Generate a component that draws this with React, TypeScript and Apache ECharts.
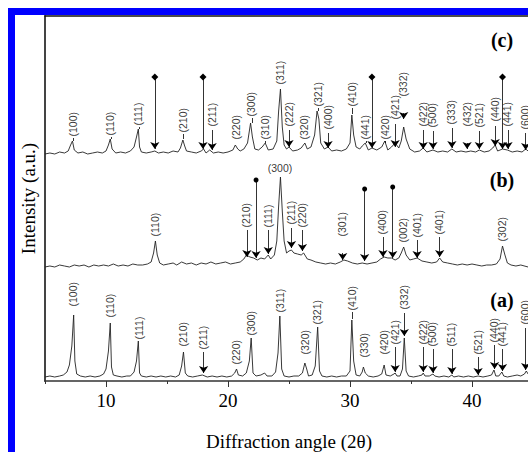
import React, { useEffect, useRef } from "react";
import * as echarts from "echarts";

type Pt = [number, number];
type Lab = [string, number, number];
type Arr = [number, number, number, string];
type Lead = [number, number, number];

const traceA: Pt[] = [
  [5.0, 4], [5.4, 5], [5.8, 4], [6.2, 5], [6.5, 6], [6.8, 9], [7.0, 16], [7.2, 35], [7.35, 66], [7.45, 20], [7.6, 7], [7.9, 5],
  [8.3, 4], [8.7, 5], [9.1, 4], [9.5, 5], [9.8, 7], [10.0, 12], [10.2, 30], [10.35, 58], [10.45, 14], [10.6, 6], [10.9, 5],
  [11.3, 4], [11.7, 5], [12.0, 5], [12.3, 9], [12.5, 20], [12.65, 40], [12.75, 8], [12.9, 5], [13.3, 4], [13.7, 5], [14.1, 4],
  [14.5, 5], [14.9, 4], [15.3, 5], [15.7, 4], [16.0, 6], [16.2, 15], [16.35, 29], [16.5, 8], [16.7, 5], [17.1, 4], [17.5, 5],
  [17.9, 6], [18.3, 4], [18.7, 5], [19.1, 4], [19.5, 5], [19.9, 4], [20.3, 5], [20.55, 8], [20.7, 12], [20.85, 6], [21.2, 5],
  [21.5, 8], [21.75, 20], [21.9, 43], [22.05, 8], [22.3, 5], [22.7, 6], [23.0, 8], [23.2, 5], [23.6, 5], [23.9, 9], [24.1, 28],
  [24.25, 65], [24.4, 12], [24.6, 5], [25.0, 4], [25.4, 5], [25.8, 5], [26.1, 8], [26.3, 18], [26.45, 12], [26.6, 5], [26.9, 6],
  [27.15, 15], [27.35, 54], [27.5, 10], [27.7, 5], [28.1, 4], [28.5, 5], [28.9, 4], [29.3, 5], [29.7, 5], [30.0, 10], [30.15, 61],
  [30.3, 20], [30.5, 6], [30.8, 5], [31.0, 9], [31.1, 14], [31.25, 8], [31.5, 5], [31.9, 4], [32.3, 5], [32.6, 7], [32.8, 16],
  [32.95, 6], [33.3, 5], [33.6, 7], [33.7, 8], [33.85, 5], [34.1, 5], [34.3, 12], [34.45, 43], [34.6, 10], [34.8, 5], [35.2, 4],
  [35.6, 5], [35.9, 6], [36.0, 8], [36.15, 5], [36.5, 5], [36.8, 7], [36.95, 5], [37.3, 4], [37.7, 5], [38.1, 4], [38.35, 6],
  [38.5, 4], [38.9, 5], [39.3, 4], [39.7, 5], [40.1, 4], [40.5, 5], [40.9, 4], [41.3, 5], [41.6, 6], [41.8, 11], [41.95, 5],
  [42.2, 5], [42.45, 9], [42.6, 5], [42.9, 4], [43.3, 5], [43.7, 6], [44.0, 5], [44.3, 7], [44.45, 10], [44.6, 7], [45.0, 5]
];

const traceB: Pt[] = [
  [5.0, 114], [5.4, 115], [5.8, 114], [6.2, 116], [6.6, 115], [7.0, 114], [7.4, 116], [7.8, 115], [8.2, 116], [8.6, 114],
  [9.0, 116], [9.4, 115], [9.8, 116], [10.2, 115], [10.6, 117], [11.0, 115], [11.4, 116], [11.8, 115], [12.2, 117], [12.6, 116],
  [13.0, 116], [13.4, 117], [13.7, 119], [13.9, 128], [14.05, 140], [14.2, 126], [14.4, 118], [14.7, 116], [15.1, 117], [15.5, 118],
  [15.8, 116], [16.2, 119], [16.6, 117], [17.0, 118], [17.4, 116], [17.8, 118], [18.2, 117], [18.6, 119], [19.0, 117], [19.4, 118],
  [19.8, 119], [20.2, 117], [20.6, 118], [21.0, 119], [21.3, 122], [21.5, 126], [21.8, 124], [22.1, 123], [22.4, 121], [22.7, 123],
  [23.0, 122], [23.3, 126], [23.5, 122], [23.8, 126], [24.0, 140], [24.15, 175], [24.3, 204], [24.45, 170], [24.6, 140], [24.8, 128],
  [25.0, 130], [25.2, 131], [25.4, 128], [25.7, 127], [26.0, 126], [26.2, 128], [26.5, 122], [26.8, 121], [27.2, 119], [27.6, 118],
  [28.0, 117], [28.4, 118], [28.8, 117], [29.2, 119], [29.5, 121], [29.8, 120], [30.2, 118], [30.6, 117], [31.0, 118], [31.4, 117],
  [31.8, 118], [32.2, 119], [32.5, 122], [32.8, 124], [33.1, 123], [33.4, 123], [33.7, 121], [34.0, 123], [34.2, 128], [34.4, 134],
  [34.6, 126], [34.9, 121], [35.2, 122], [35.5, 123], [35.9, 120], [36.3, 119], [36.7, 118], [37.1, 119], [37.35, 123], [37.6, 119],
  [38.0, 118], [38.4, 117], [38.8, 116], [39.2, 117], [39.6, 116], [40.0, 117], [40.4, 116], [40.8, 115], [41.2, 116], [41.6, 116],
  [42.0, 117], [42.3, 122], [42.5, 135], [42.7, 126], [42.9, 118], [43.2, 116], [43.6, 115], [44.0, 116], [44.6, 114], [45.0, 115]
];

const traceC: Pt[] = [
  [5.0, 227], [5.4, 228], [5.8, 227], [6.2, 229], [6.6, 228], [6.9, 230], [7.1, 236], [7.25, 240], [7.4, 231], [7.7, 228],
  [8.1, 229], [8.5, 227], [8.9, 228], [9.3, 229], [9.7, 228], [10.0, 230], [10.2, 236], [10.35, 242], [10.5, 232], [10.8, 228],
  [11.2, 229], [11.6, 228], [12.0, 230], [12.3, 234], [12.5, 244], [12.65, 252], [12.75, 234], [12.9, 229], [13.3, 228], [13.7, 229],
  [14.0, 230], [14.3, 228], [14.7, 229], [15.1, 228], [15.5, 230], [15.9, 229], [16.1, 233], [16.3, 241], [16.45, 235], [16.6, 230],
  [17.0, 229], [17.4, 228], [17.8, 230], [18.0, 232], [18.2, 228], [18.5, 231], [18.8, 228], [19.2, 229], [19.6, 228], [20.0, 229],
  [20.4, 231], [20.6, 236], [20.8, 232], [21.0, 230], [21.3, 232], [21.6, 238], [21.85, 258], [22.0, 244], [22.2, 232], [22.5, 231],
  [22.8, 234], [23.05, 238], [23.3, 231], [23.7, 232], [24.0, 240], [24.15, 270], [24.3, 292], [24.45, 254], [24.6, 236], [24.8, 232],
  [25.0, 234], [25.3, 230], [25.7, 231], [26.0, 233], [26.3, 238], [26.5, 232], [26.8, 234], [27.1, 246], [27.3, 270], [27.45, 262],
  [27.6, 238], [27.9, 232], [28.2, 234], [28.5, 230], [28.9, 231], [29.3, 230], [29.7, 232], [30.0, 238], [30.15, 266], [30.3, 246],
  [30.5, 234], [30.8, 232], [31.0, 235], [31.25, 238], [31.5, 231], [31.8, 233], [32.2, 231], [32.6, 234], [32.85, 240], [33.1, 231],
  [33.4, 234], [33.7, 238], [34.0, 233], [34.2, 240], [34.4, 254], [34.6, 242], [34.9, 232], [35.3, 229], [35.7, 230], [36.0, 233],
  [36.3, 229], [36.8, 231], [37.2, 229], [37.6, 230], [38.0, 229], [38.35, 232], [38.7, 229], [39.1, 230], [39.5, 229], [39.9, 230],
  [40.3, 229], [40.6, 231], [41.0, 229], [41.4, 230], [41.7, 233], [41.9, 236], [42.1, 230], [42.5, 232], [42.9, 231], [43.3, 229],
  [43.7, 230], [44.1, 229], [44.4, 232], [44.6, 230], [45.0, 229]
];

const labelsA: Lab[] = [
  ["(100)", 7.35, 74], ["(110)", 10.4, 63], ["(111)", 12.75, 41], ["(210)", 16.35, 34], ["(211)", 18.0, 31],
  ["(220)", 20.7, 16], ["(300)", 21.95, 45], ["(311)", 24.3, 68], ["(320)", 26.35, 26], ["(321)", 27.35, 56],
  ["(410)", 30.2, 70], ["(330)", 31.15, 23], ["(420)", 32.85, 26], ["(421)", 33.7, 36], ["(332)", 34.45, 71],
  ["(422)", 36.0, 36], ["(500)", 36.8, 34], ["(511)", 38.35, 34], ["(521)", 40.5, 26], ["(440)", 41.85, 38],
  ["(441)", 42.5, 34], ["(600)", 44.4, 56]
];
const labelsB: Lab[] = [
  ["(110)", 14.05, 144], ["(210)", 21.55, 153], ["(111)", 23.3, 153], ["(211)", 25.2, 156], ["(220)", 26.1, 153],
  ["(301)", 29.4, 144], ["(400)", 32.7, 146], ["(002)", 34.4, 138], ["(401)", 35.5, 143], ["(401)", 37.35, 146],
  ["(302)", 42.5, 139]
];
const labelsBFlat: Lab[] = [["(300)", 24.3, 213]];
const labelsC: Lab[] = [
  ["(100)", 7.35, 244], ["(110)", 10.4, 245], ["(111)", 12.7, 255], ["(210)", 16.35, 248], ["(211)", 18.7, 254],
  ["(220)", 20.7, 241], ["(300)", 21.95, 264], ["(310)", 23.05, 241], ["(311)", 24.3, 296], ["(222)", 25.0, 254],
  ["(320)", 26.3, 241], ["(321)", 27.4, 274], ["(400)", 28.2, 251], ["(410)", 30.2, 274], ["(441)", 31.3, 241],
  ["(420)", 32.9, 241], ["(421)", 33.7, 261], ["(332)", 34.4, 284], ["(422)", 36.0, 254], ["(500)", 36.8, 253],
  ["(333)", 38.35, 256], ["(432)", 39.6, 254], ["(521)", 40.6, 253], ["(440)", 41.9, 259], ["(441)", 42.95, 254],
  ["(600)", 44.4, 251]
];

const arrows: Arr[] = [
  [18.0, 29, 8, "none"], [33.7, 34, 9, "none"], [34.45, 68, 45, "none"], [36.0, 34, 9, "none"], [36.8, 32, 8, "none"],
  [38.35, 32, 7, "none"], [40.5, 24, 6, "none"], [41.85, 36, 12, "none"], [42.5, 32, 10, "none"], [44.4, 53, 11, "none"],
  [21.55, 151, 124, "none"], [22.3, 201, 123, "circle"], [23.3, 151, 127, "none"], [25.2, 153, 133, "none"],
  [26.1, 151, 130, "none"], [29.4, 128, 121, "none"], [31.2, 192, 120, "circle"], [32.7, 144, 124, "none"],
  [33.5, 194, 123, "circle"], [35.5, 141, 123, "none"], [37.35, 144, 124, "none"],
  [14.0, 304, 232, "diamond"], [17.95, 304, 232, "diamond"], [18.7, 251, 231, "none"], [25.0, 251, 234, "none"],
  [28.2, 248, 233, "none"], [31.8, 304, 233, "diamond"], [33.7, 257, 234, "none"], [34.4, 268, 262, "none"],
  [36.0, 251, 232, "none"], [36.8, 250, 232, "none"], [38.35, 253, 233, "none"], [39.6, 238, 232, "none"],
  [40.6, 250, 232, "none"], [41.9, 255, 235, "none"], [42.5, 304, 232, "diamond"], [42.95, 251, 232, "none"],
  [44.4, 248, 231, "none"]
];

const leaders: Lead[] = [
  [30.2, 69, 62], [7.35, 243, 240], [10.4, 244, 242], [12.7, 254, 252], [16.35, 247, 242], [21.95, 263, 258],
  [23.05, 240, 238], [27.4, 273, 270], [30.2, 273, 267], [31.3, 240, 238], [32.9, 240, 238]
];

const panelTags: string[] = ["(c)", "(b)", "(a)"];

const SERIF = "'Liberation Serif', 'Times New Roman', serif";
const SANS = "'Liberation Sans', Arial, sans-serif";

export default function App() {
  const ref = useRef<HTMLDivElement>(null);
  useEffect(() => {
    if (!ref.current) return;
    const chart = echarts.init(ref.current, null, { renderer: "svg" });
    const rotLabels = [...labelsA, ...labelsB, ...labelsC].map(([t, x, y]) => ({ value: [x, y, t] }));
    const flatLabels = labelsBFlat.map(([t, x, y]) => ({
      value: [x, y, t],
      label: { rotate: 0, align: "center", verticalAlign: "middle" }
    }));
    const arrowLines = arrows.map(([x, y1, y2, m]) => [
      { coord: [x, y1], symbol: m, symbolSize: m === "diamond" ? 7 : m === "circle" ? 5 : 0 },
      { coord: [x, y2], symbol: "arrow", symbolSize: 7 }
    ]);
    const leaderLines = leaders.map(([x, y1, y2]) => [
      { coord: [x, y1], symbol: "none" },
      { coord: [x, y2], symbol: "none" }
    ]);
    const traceStyle = { color: "#222", width: 0.9 };
    chart.setOption({
      animation: false,
      backgroundColor: "#fff",
      grid: { left: 45, top: 16, width: 488, height: 365, show: false, outerBoundsMode: "none", containLabel: false },
      xAxis: [
        {
          type: "value", min: 5, max: 45, interval: 10, position: "bottom",
          axisLine: { show: true, onZero: false, lineStyle: { color: "#333", width: 1.5 } },
          axisTick: { show: true, length: 3, lineStyle: { color: "#333", width: 1 } },
          minorTick: { show: true, splitNumber: 2, length: 6, lineStyle: { color: "#333", width: 1 } },
          axisLabel: { show: false }, splitLine: { show: false },
          name: "Diffraction angle (2θ)", nameLocation: "middle", nameGap: 51,
          nameTextStyle: { fontFamily: SERIF, fontSize: 19, color: "#000" }
        },
        {
          type: "value", min: 5, max: 45, interval: 5, position: "bottom",
          axisLine: { show: false }, axisTick: { show: false }, splitLine: { show: false },
          axisLabel: {
            margin: 10, fontFamily: SERIF, fontSize: 19, color: "#000",
            formatter: (v: number) => (v % 10 === 0 && v > 5 && v < 45 ? String(v) : "")
          }
        },
        {
          type: "value", min: 5, max: 45, position: "top",
          axisLine: { show: true, onZero: false, lineStyle: { color: "#111", width: 1.5 } },
          axisTick: { show: false }, axisLabel: { show: false }, splitLine: { show: false }
        }
      ],
      yAxis: {
        type: "value", min: 0, max: 365,
        axisLine: { show: true, onZero: false, lineStyle: { color: "#444", width: 2 } },
        axisTick: { show: false }, axisLabel: { show: false }, splitLine: { show: false },
        name: "Intensity (a.u.)", nameLocation: "middle", nameGap: 7, nameRotate: 90,
        nameTextStyle: { fontFamily: SERIF, fontSize: 19, color: "#000" }
      },
      series: [
        { type: "line", data: traceA, showSymbol: false, lineStyle: traceStyle, silent: true },
        { type: "line", data: traceB, showSymbol: false, lineStyle: traceStyle, silent: true },
        { type: "line", data: traceC, showSymbol: false, lineStyle: traceStyle, silent: true },
        {
          type: "scatter", data: [...rotLabels, ...flatLabels], symbolSize: 1, silent: true,
          itemStyle: { color: "rgba(0,0,0,0)" },
          label: {
            show: true, position: [0, 0], rotate: 90, align: "left", verticalAlign: "middle",
            formatter: (p: any) => p.value[2], fontFamily: SANS, fontSize: 10.5, color: "#000"
          },
          z: 5
        },
        {
          type: "line", data: [], silent: true,
          markLine: {
            silent: true, animation: false, label: { show: false },
            lineStyle: { color: "#000", width: 0.8, type: "solid" },
            data: [...arrowLines, ...leaderLines]
          }
        }
      ],
      graphic: [
        {
          type: "rect", shape: { x: 11.5, y: 11.5, width: 700, height: 700 },
          style: { fill: "none", stroke: "#0000ff", lineWidth: 7 }, silent: true, z: 100
        },
        ...panelTags.map((t, i) => ({
          type: "text", x: 502, y: [40, 180, 300][i],
          style: { text: t, font: `bold 20px ${SERIF}`, fill: "#000", align: "center", verticalAlign: "middle" }
        }))
      ]
    });
    return () => chart.dispose();
  }, []);
  return <div ref={ref} style={{ position: "fixed", left: 0, top: 0, width: 528, height: 452 }} />;
}
